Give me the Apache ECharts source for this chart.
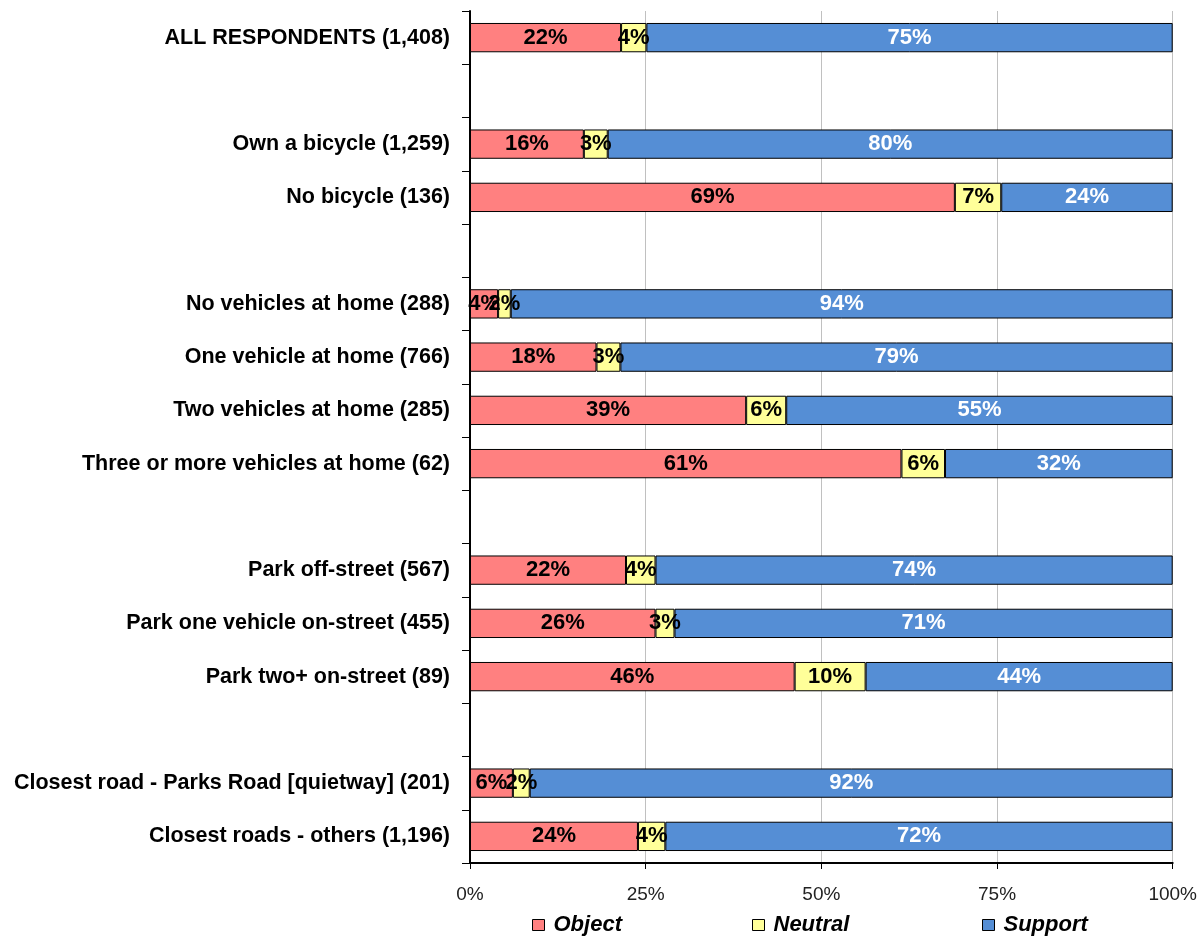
<!DOCTYPE html>
<html>
<head>
<meta charset="utf-8">
<script src="https://cdn.jsdelivr.net/npm/echarts@6/dist/echarts.min.js"></script>
<style>
html,body{margin:0;padding:0;background:#fff;}
#chart{width:1200px;height:936px;}
</style>
</head>
<body>
<div id="chart"></div>
<script>
const categories = [
  'ALL RESPONDENTS (1,408)', '',
  'Own a bicycle (1,259)', 'No bicycle (136)', '',
  'No vehicles at home (288)', 'One vehicle at home (766)', 'Two vehicles at home (285)', 'Three or more vehicles at home (62)', '',
  'Park off-street (567)', 'Park one vehicle on-street (455)', 'Park two+ on-street (89)', '',
  'Closest road - Parks Road [quietway] (201)', 'Closest roads - others (1,196)'
];
const objectVals  = [21.5, null, 16.2, 69.0, null, 4.0, 18.0, 39.3, 61.4, null, 22.2, 26.4, 46.2, null, 6.1, 23.9];
const neutralVals = [3.6,  null, 3.4,  6.6,  null, 1.8, 3.4,  5.7,  6.2,  null, 4.2,  2.7,  10.1, null, 2.4, 3.9];
const supportVals = [74.9, null, 80.4, 24.4, null, 94.2, 78.6, 55.0, 32.4, null, 73.6, 70.9, 43.7, null, 91.5, 72.2];
const xTicks = [0, 25, 50, 75, 100];
const seriesNames = ['Object', 'Neutral', 'Support'];

const FONT = "'Liberation Sans', Arial, sans-serif";
const chart = echarts.init(document.getElementById('chart'));

function mkSeries(name, vals, color, labelColor) {
  return {
    name: name,
    type: 'bar',
    stack: 'total',
    barWidth: '55%',
    data: vals.map(v => v === null ? '-' : v),
    itemStyle: { color: color, borderColor: '#000', borderWidth: 1 },
    label: {
      show: true,
      position: 'inside',
      color: labelColor,
      fontFamily: FONT,
      fontWeight: 'bold',
      fontSize: 22,
      formatter: p => Math.round(p.value) + '%'
    },
    emphasis: { disabled: true },
    animation: false
  };
}

function mkLegend(name, left) {
  return {
    data: [name],
    left: left,
    top: 909,
    icon: 'rect',
    itemWidth: 12,
    itemHeight: 11,
    itemGap: 8,
    itemStyle: { borderColor: '#000', borderWidth: 1 },
    textStyle: { fontFamily: FONT, fontSize: 22, fontWeight: 'bold', fontStyle: 'italic', color: '#000', padding: [0, 0, 0, 4] },
    selectedMode: false
  };
}

chart.setOption({
  animation: false,
  backgroundColor: '#fff',
  grid: { left: 470, right: 25, top: 11, bottom: 73, containLabel: false },
  legend: [mkLegend('Object', 527), mkLegend('Neutral', 747), mkLegend('Support', 977)],
  xAxis: {
    type: 'value',
    min: 0, max: 100, interval: 25,
    axisLabel: { formatter: v => v + '%', fontFamily: FONT, fontSize: 19, color: '#222', margin: 22 },
    axisLine: { show: true, lineStyle: { color: '#000', width: 2 } },
    axisTick: { show: true, length: 6, lineStyle: { color: '#000', width: 1 } },
    splitLine: { show: true, lineStyle: { color: '#c0c0c0', width: 1 } },
    data: xTicks
  },
  yAxis: {
    type: 'category',
    inverse: true,
    data: categories,
    axisLine: { show: true, lineStyle: { color: '#000', width: 2 } },
    axisTick: { show: true, length: 8, alignWithLabel: false, lineStyle: { color: '#000', width: 1 } },
    axisLabel: { fontFamily: FONT, fontSize: 21.5, fontWeight: 'bold', color: '#000', margin: 20, interval: 0 }
  },
  series: [
    mkSeries(seriesNames[0], objectVals, '#FF8080', '#000'),
    mkSeries(seriesNames[1], neutralVals, '#FFFF99', '#000'),
    mkSeries(seriesNames[2], supportVals, '#558ED5', '#fff')
  ]
});
</script>
</body>
</html>
